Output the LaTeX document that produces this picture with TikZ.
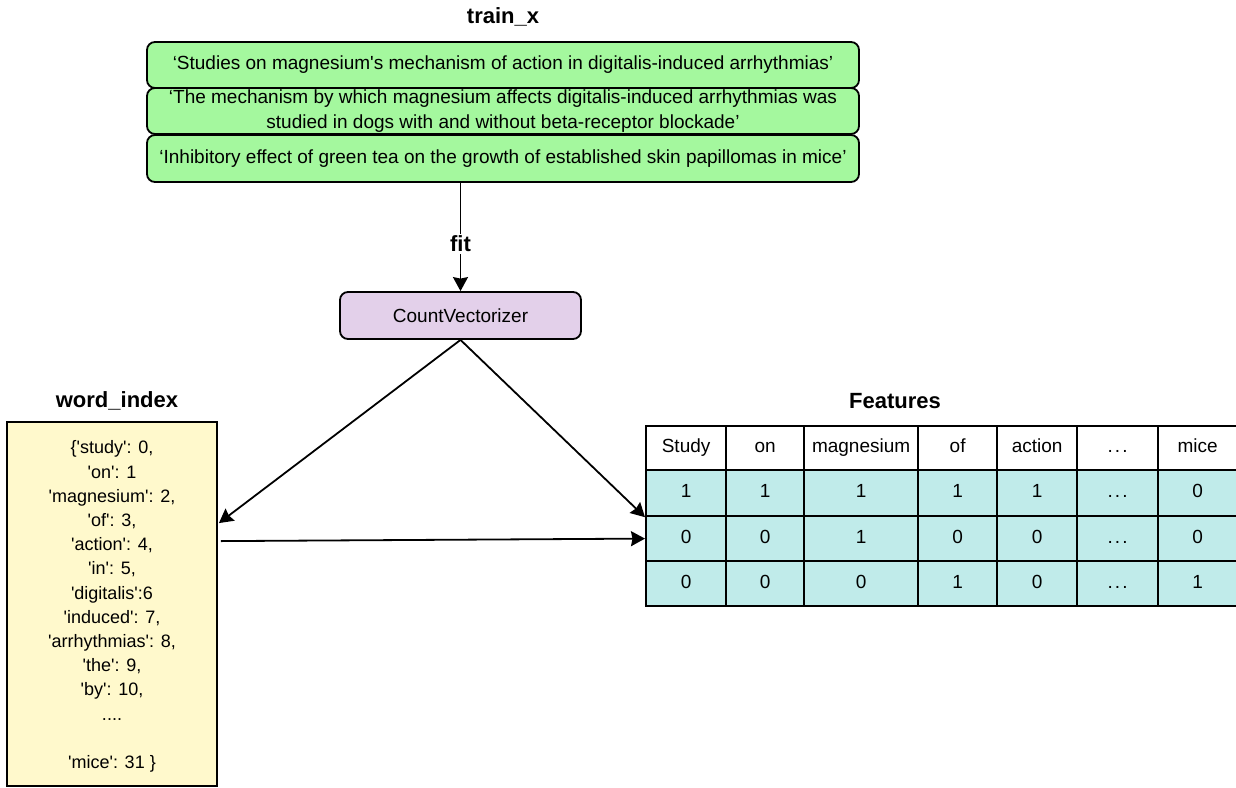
\documentclass[tikz,border=0pt]{standalone}
\usepackage{fontspec}
\setmainfont{Liberation Sans}
\usetikzlibrary{arrows.meta,calc}
\definecolor{boxgreen}{HTML}{A4F89E}
\definecolor{cvpurple}{HTML}{E3D0EA}
\definecolor{wiyellow}{HTML}{FFF9CC}
\definecolor{cellteal}{HTML}{C0EBEA}
\newcommand{\sq}{\textquotesingle}
\newcommand{\mydots}{.\kern2pt.\kern2pt.}
\begin{document}
\begin{tikzpicture}[x=1pt,y=-1pt,line width=1.8pt,
  every node/.style={font=\fontsize{19}{24.2}\selectfont},
  titlelabel/.style={font=\fontsize{22}{26}\selectfont\bfseries},
  sentbox/.style={draw,fill=boxgreen,rounded corners=8pt,minimum width=712pt,align=center,inner sep=0pt},
  cvbox/.style={draw,fill=cvpurple,rounded corners=8pt,minimum width=241pt,minimum height=47pt,inner sep=0pt},
  wibox/.style={draw,fill=wiyellow,minimum width=210pt,minimum height=364pt,inner sep=0pt},
  cellbase/.style={draw,line width=2.2pt,inner sep=0pt,anchor=north west,text height=13.5pt,text depth=4pt},
  hcell/.style={cellbase,fill=white,minimum height=44pt},
  dcell/.style={cellbase,fill=cellteal,minimum height=45pt},
  arr/.style={-{Stealth[length=14pt,width=15pt,inset=1.5pt]}}
]
\useasboundingbox (0,0) rectangle (1236,787);

% train_x
\node[titlelabel] (tx) at (503,17) {train\_x};
\node[sentbox,minimum height=46pt] (s1) at (503,65) {‘Studies on magnesium\sq s mechanism of action in digitalis-induced arrhythmias’};
\node[sentbox,minimum height=46pt] (s2) at (503,111) {‘The mechanism by which magnesium affects digitalis-induced arrhythmias was\\studied in dogs with and without beta-receptor blockade’};
\node[sentbox,minimum height=47pt] (s3) at (503,158.5) {‘Inhibitory effect of green tea on the growth of established skin papillomas in mice’};

% CountVectorizer
\node[cvbox] (cv) at (460.5,315.5) {CountVectorizer};
\draw[arr] (s3.south -| cv.north) -- node[pos=0.565,titlelabel,fill=white,inner sep=2pt] (fit) {fit} (cv.north);

% word_index
\node[titlelabel] (wt) at (117,401) {word\_index};
\node[wibox] (wi) at (112,604) {};
\node[anchor=north,align=center,inner sep=0pt,font=\fontsize{18}{24.2}\selectfont] (wtext) at (112,440) {\{\sq study\sq: 0,\\ \sq on\sq: 1\\ \sq magnesium\sq: 2,\\ \sq of\sq: 3,\\ \sq action\sq: 4,\\ \sq in\sq: 5,\\ \sq digitalis\sq:6\\ \sq induced\sq: 7,\\ \sq arrhythmias\sq: 8,\\ \sq the\sq: 9,\\ \sq by\sq: 10,\\ ....\\[24.2pt] \sq mice\sq: 31 \}};

% Features table
\node[titlelabel] (ft) at (895,401) {Features};
\foreach \c/\x/\w/\t in {1/645/80/Study,2/725/78/on,3/803/114/magnesium,4/917/79/of,5/996/80/action,6/1076/81/\mydots,7/1157/79/mice}
  \node[hcell,minimum width=\w pt] (h-\c) at (\x,425) {\t};
\foreach \c/\x/\w/\t in {1/645/80/1,2/725/78/1,3/803/114/1,4/917/79/1,5/996/80/1,6/1076/81/\mydots,7/1157/79/0}
  \node[dcell,minimum width=\w pt,minimum height=46pt] (c1-\c) at (\x,469) {\t};
\foreach \c/\x/\w/\t in {1/645/80/0,2/725/78/0,3/803/114/1,4/917/79/0,5/996/80/0,6/1076/81/\mydots,7/1157/79/0}
  \node[dcell,minimum width=\w pt] (c2-\c) at (\x,515) {\t};
\foreach \c/\x/\w/\t in {1/645/80/0,2/725/78/0,3/803/114/0,4/917/79/1,5/996/80/0,6/1076/81/\mydots,7/1157/79/1}
  \node[dcell,minimum width=\w pt] (c3-\c) at (\x,560) {\t};

% connectors
\coordinate (wiin) at ($(wi.north east)+(1,102)$);
\coordinate (wiout) at ($(wi.north east)+(3,120)$);
\draw[arr] (cv.south) -- (wiin);
\draw[arr] (cv.south) -- (c1-1.south west);
\draw[arr] (wiout) -- (c2-1.west);
\end{tikzpicture}
\end{document}
